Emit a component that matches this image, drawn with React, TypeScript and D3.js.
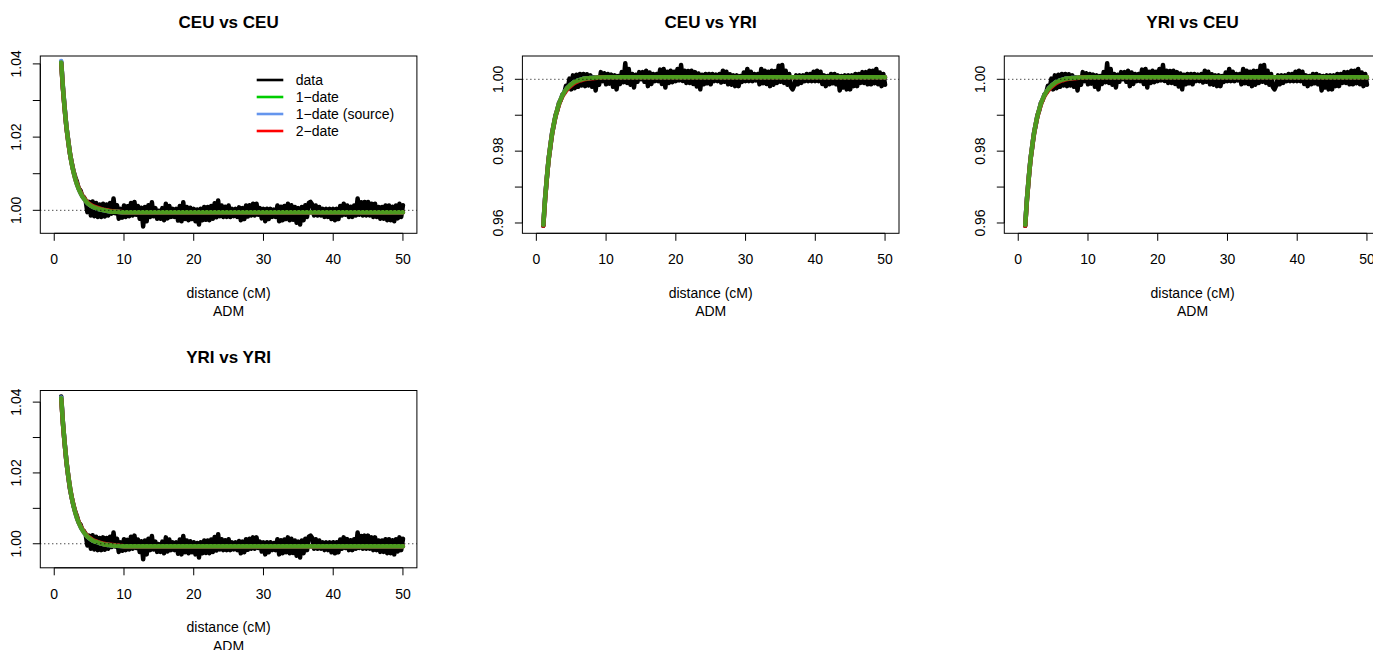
import React from "react";
import * as d3 from "d3";

// ---------- data ----------
const xTicks = [0, 10, 20, 30, 40, 50];
const dataStart = 1;
const dataStep = 0.25;

const ceuCeuData = [
  1.0405, 1.0332, 1.0279, 1.0226,
  1.0192, 1.0155, 1.0131, 1.0108,
  1.0092, 1.0078, 1.0060, 1.0055,
  1.0040, 1.0036, 1.0027, 0.9995,
  1.0023, 0.9986, 1.0024, 0.9984,
  1.0020, 0.9982, 1.0016, 0.9982,
  1.0018, 0.9983, 1.0016, 0.9986,
  1.0020, 0.9991, 1.0032, 0.9992,
  1.0014, 0.9977, 1.0004, 0.9980,
  1.0013, 0.9982, 1.0011, 0.9984,
  1.0020, 0.9986, 1.0023, 0.9988,
  1.0012, 0.9977, 1.0007, 0.9956,
  1.0009, 0.9970, 1.0014, 0.9982,
  1.0022, 0.9984, 1.0006, 0.9977,
  0.9999, 0.9977, 1.0006, 0.9973,
  1.0018, 0.9978, 1.0012, 0.9982,
  1.0004, 0.9982, 1.0004, 0.9972,
  1.0012, 0.9970, 1.0022, 0.9976,
  1.0009, 0.9973, 1.0007, 0.9976,
  1.0004, 0.9970, 1.0002, 0.9961,
  1.0004, 0.9973, 1.0009, 0.9974,
  1.0009, 0.9973, 1.0012, 0.9977,
  1.0019, 0.9981, 1.0027, 0.9984,
  1.0013, 0.9982, 1.0010, 0.9982,
  1.0013, 0.9982, 1.0004, 0.9984,
  1.0004, 0.9982, 1.0008, 0.9973,
  1.0006, 0.9976, 1.0013, 0.9983,
  1.0014, 0.9986, 1.0018, 0.9986,
  1.0018, 0.9988, 1.0006, 0.9978,
  1.0004, 0.9970, 1.0004, 0.9976,
  1.0004, 0.9982, 1.0002, 0.9982,
  1.0013, 0.9970, 1.0010, 0.9973,
  1.0012, 0.9976, 1.0018, 0.9973,
  1.0014, 0.9974, 1.0009, 0.9966,
  1.0006, 0.9961, 1.0009, 0.9973,
  1.0014, 0.9982, 1.0020, 1.0023,
  1.0016, 0.9986, 1.0013, 0.9986,
  1.0009, 0.9986, 1.0004, 0.9982,
  1.0004, 0.9982, 1.0004, 0.9976,
  1.0004, 0.9973, 1.0004, 0.9976,
  1.0012, 0.9986, 1.0018, 0.9988,
  1.0013, 0.9982, 1.0010, 0.9982,
  1.0013, 0.9986, 1.0032, 0.9988,
  1.0022, 0.9986, 1.0023, 0.9986,
  1.0023, 0.9986, 1.0018, 0.9982,
  1.0018, 0.9982, 1.0009, 0.9977,
  1.0009, 0.9977, 1.0013, 0.9973,
  1.0013, 0.9973, 1.0010, 0.9970,
  1.0013, 0.9978, 1.0018, 0.9982,
  1.0014,
];

const ceuYriData = [
  0.9592, 0.9668, 0.9722, 0.9777,
  0.9810, 0.9850, 0.9872, 0.9900,
  0.9913, 0.9935, 0.9942, 0.9958,
  0.9962, 0.9982, 0.9974, 1.0002,
  0.9972, 1.0011, 0.9975, 1.0013,
  0.9979, 1.0015, 0.9983, 1.0015,
  0.9981, 1.0014, 0.9983, 1.0011,
  0.9979, 1.0006, 0.9969, 1.0005,
  0.9985, 1.0020, 0.9995, 1.0017,
  0.9986, 1.0015, 0.9988, 1.0013,
  0.9979, 1.0011, 0.9972, 1.0009,
  0.9987, 1.0020, 0.9992, 1.0045,
  0.9990, 1.0029, 0.9985, 1.0015,
  0.9977, 1.0013, 0.9993, 1.0020,
  1.0000, 1.0020, 0.9993, 1.0024,
  0.9981, 1.0019, 0.9987, 1.0015,
  0.9995, 1.0015, 0.9995, 1.0027,
  0.9987, 1.0029, 0.9977, 1.0021,
  0.9990, 1.0024, 0.9992, 1.0021,
  0.9995, 1.0029, 0.9997, 1.0040,
  0.9995, 1.0024, 0.9990, 1.0023,
  0.9990, 1.0024, 0.9987, 1.0020,
  0.9980, 1.0016, 0.9972, 1.0013,
  0.9986, 1.0015, 0.9989, 1.0015,
  0.9986, 1.0015, 0.9995, 1.0013,
  0.9995, 1.0015, 0.9991, 1.0024,
  0.9993, 1.0021, 0.9986, 1.0014,
  0.9985, 1.0011, 0.9981, 1.0011,
  0.9981, 1.0009, 0.9993, 1.0019,
  0.9995, 1.0029, 0.9995, 1.0021,
  0.9995, 1.0015, 0.9997, 1.0015,
  0.9986, 1.0029, 0.9989, 1.0024,
  0.9987, 1.0021, 0.9981, 1.0024,
  0.9985, 1.0023, 0.9990, 1.0038,
  0.9993, 1.0040, 0.9990, 1.0024,
  0.9985, 1.0015, 0.9979, 0.9972,
  0.9983, 1.0011, 0.9986, 1.0011,
  0.9990, 1.0011, 0.9995, 1.0015,
  0.9995, 1.0015, 0.9995, 1.0021,
  0.9995, 1.0024, 0.9995, 1.0021,
  0.9987, 1.0011, 0.9981, 1.0009,
  0.9986, 1.0015, 0.9989, 1.0015,
  0.9986, 1.0011, 0.9969, 1.0009,
  0.9977, 1.0011, 0.9972, 1.0011,
  0.9972, 1.0011, 0.9981, 1.0015,
  0.9981, 1.0015, 0.9990, 1.0020,
  0.9990, 1.0020, 0.9986, 1.0024,
  0.9986, 1.0024, 0.9989, 1.0029,
  0.9986, 1.0019, 0.9981, 1.0015,
  0.9985,
];

const yriCeuData = ceuYriData;
const yriYriHead = [1.0416, 1.0340, 1.0283, 1.0230];
const yriYriData = [...yriYriHead, ...ceuCeuData.slice(yriYriHead.length)];

const fitDistances = [1, 1.25, 1.5, 1.75, 2, 2.25, 2.5, 2.75, 3, 3.25, 3.5, 3.75, 4, 4.25, 4.5, 4.75, 5, 5.5, 6, 6.5, 7, 7.5, 8, 9, 10, 20, 30, 40, 50];

const ceuCeuOneDate = [1.0404, 1.0334, 1.0276, 1.0228, 1.0189, 1.0156, 1.0128, 1.0106, 1.0087, 1.0071, 1.0059, 1.0048, 1.0039, 1.0032, 1.0026, 1.0020, 1.0016, 1.0010, 1.0006, 1.0003, 1.0001, 0.9999, 0.9997, 0.9996, 0.9995, 0.9995, 0.9995, 0.9995, 0.9995];
const ceuCeuSource = [1.0408, 1.0337, 1.0278, 1.0229, 1.0190, 1.0157, 1.0129, 1.0106, 1.0087, 1.0071, 1.0059, 1.0048, 1.0039, 1.0032, 1.0026, 1.0020, 1.0016, 1.0010, 1.0006, 1.0003, 1.0001, 0.9999, 0.9997, 0.9996, 0.9995, 0.9995, 0.9995, 0.9995, 0.9995];
const ceuCeuTwoDate = [1.0402, 1.0332, 1.0275, 1.0227, 1.0189, 1.0156, 1.0129, 1.0107, 1.0088, 1.0073, 1.0061, 1.0050, 1.0041, 1.0034, 1.0028, 1.0022, 1.0018, 1.0012, 1.0008, 1.0005, 1.0002, 1.0000, 0.9998, 0.9996, 0.9995, 0.9995, 0.9995, 0.9995, 0.9995];

const ceuYriOneDate = [0.9595, 0.9666, 0.9725, 0.9774, 0.9814, 0.9847, 0.9875, 0.9897, 0.9916, 0.9932, 0.9945, 0.9955, 0.9964, 0.9971, 0.9977, 0.9982, 0.9986, 0.9993, 0.9997, 1.0000, 1.0002, 1.0003, 1.0004, 1.0005, 1.0006, 1.0006, 1.0006, 1.0006, 1.0006];
const ceuYriSource = [0.9597, 0.9667, 0.9726, 0.9775, 0.9815, 0.9848, 0.9875, 0.9897, 0.9916, 0.9932, 0.9945, 0.9955, 0.9964, 0.9971, 0.9977, 0.9982, 0.9986, 0.9993, 0.9997, 1.0000, 1.0002, 1.0003, 1.0004, 1.0005, 1.0006, 1.0006, 1.0006, 1.0006, 1.0006];
const ceuYriTwoDate = [0.9592, 0.9664, 0.9724, 0.9773, 0.9813, 0.9846, 0.9874, 0.9896, 0.9914, 0.9930, 0.9943, 0.9953, 0.9961, 0.9968, 0.9974, 0.9979, 0.9983, 0.9990, 0.9995, 0.9998, 1.0001, 1.0002, 1.0003, 1.0005, 1.0006, 1.0006, 1.0006, 1.0006, 1.0006];

const yriYriOneDate = [1.0411, 1.0340, 1.0282, 1.0233, 1.0193, 1.0160, 1.0131, 1.0109, 1.0089, 1.0073, 1.0060, 1.0049, 1.0040, 1.0032, 1.0026, 1.0020, 1.0016, 1.0009, 1.0005, 1.0002, 0.9999, 0.9997, 0.9996, 0.9994, 0.9993, 0.9993, 0.9993, 0.9993, 0.9993];
const yriYriSource = [1.0413, 1.0341, 1.0283, 1.0234, 1.0193, 1.0160, 1.0131, 1.0109, 1.0089, 1.0073, 1.0060, 1.0049, 1.0040, 1.0032, 1.0026, 1.0020, 1.0016, 1.0009, 1.0005, 1.0002, 0.9999, 0.9997, 0.9996, 0.9994, 0.9993, 0.9993, 0.9993, 0.9993, 0.9993];
const yriYriTwoDate = [1.0409, 1.0338, 1.0281, 1.0233, 1.0193, 1.0160, 1.0132, 1.0110, 1.0091, 1.0075, 1.0062, 1.0051, 1.0042, 1.0034, 1.0028, 1.0022, 1.0018, 1.0011, 1.0007, 1.0003, 1.0000, 0.9998, 0.9997, 0.9995, 0.9993, 0.9993, 0.9993, 0.9993, 0.9993];

const legendLabels = ["data", "1\u2212date", "1\u2212date (source)", "2\u2212date"];
const legendColors = ["#000000", "#00CD00", "#6495ED", "#FF0000"];

const xLabel = "distance (cM)";
const subLabel = "ADM";

// ---------- layout ----------
const FONT = "'Liberation Sans', Arial, Helvetica, sans-serif";
const PLOT_W = 376.6;
const PLOT_H = 177.3;
const FIT_GREEN = "#4D9A1F";

type Panel = {
  title: string;
  left: number;
  top: number;
  yDomain: [number, number];
  yTicks: number[];
  yLabels: number[];
  data: number[];
  oneDate: number[];
  source: number[];
  twoDate: number[];
  legend: boolean;
};

const panels: Panel[] = [
  { title: "CEU vs CEU", left: 40.3, top: 56, yDomain: [0.99372, 1.04216], yTicks: [1.0, 1.01, 1.02, 1.03, 1.04], yLabels: [1.0, 1.02, 1.04], data: ceuCeuData, oneDate: ceuCeuOneDate, source: ceuCeuSource, twoDate: ceuCeuTwoDate, legend: true },
  { title: "CEU vs YRI", left: 522.4, top: 56, yDomain: [0.95713, 1.00649], yTicks: [0.96, 0.97, 0.98, 0.99, 1.0], yLabels: [0.96, 0.98, 1.0], data: ceuYriData, oneDate: ceuYriOneDate, source: ceuYriSource, twoDate: ceuYriTwoDate, legend: false },
  { title: "YRI vs CEU", left: 1004.3, top: 56, yDomain: [0.95713, 1.00649], yTicks: [0.96, 0.97, 0.98, 0.99, 1.0], yLabels: [0.96, 0.98, 1.0], data: yriCeuData, oneDate: ceuYriOneDate, source: ceuYriSource, twoDate: ceuYriTwoDate, legend: false },
  { title: "YRI vs YRI", left: 40.3, top: 390.5, yDomain: [0.99321, 1.04328], yTicks: [1.0, 1.01, 1.02, 1.03, 1.04], yLabels: [1.0, 1.02, 1.04], data: yriYriData, oneDate: yriYriOneDate, source: yriYriSource, twoDate: yriYriTwoDate, legend: false },
];

const fmt = d3.format(".2f");

function PanelView({ p }: { p: Panel }) {
  const x = d3.scaleLinear().domain([-2, 52]).range([p.left, p.left + PLOT_W]);
  const y = d3.scaleLinear().domain(p.yDomain).range([p.top + PLOT_H, p.top]);
  const bottom = p.top + PLOT_H;
  const cx = p.left + PLOT_W / 2;

  const dataLine = d3
    .line<number>()
    .x((_, i) => x(dataStart + i * dataStep))
    .y((d) => y(d));
  const fitLine = d3
    .line<number>()
    .x((_, i) => x(fitDistances[i]))
    .y((d) => y(d))
    .curve(d3.curveMonotoneX);

  return (
    <g>
      <text x={cx} y={p.top - 28} textAnchor="middle" fontWeight="bold" fontSize={17} fontFamily={FONT}>
        {p.title}
      </text>
      {/* data & fits */}
      <path d={dataLine(p.data) || ""} fill="none" stroke="#000" strokeWidth={4.5} strokeLinejoin="round" strokeLinecap="round" />
      <path d={fitLine(p.source) || ""} fill="none" stroke="#6495ED" strokeWidth={4.5} strokeLinecap="round" />
      <path d={fitLine(p.twoDate) || ""} fill="none" stroke="#D01010" strokeWidth={4.5} strokeLinecap="round" />
      <path d={fitLine(p.oneDate) || ""} fill="none" stroke={FIT_GREEN} strokeWidth={4.5} strokeLinecap="round" />
      {/* reference line */}
      <line x1={p.left} x2={p.left + PLOT_W} y1={y(1)} y2={y(1)} stroke="#000" strokeWidth={1} strokeDasharray="1,3" />
      {/* box */}
      <rect x={p.left} y={p.top} width={PLOT_W} height={PLOT_H} fill="none" stroke="#000" strokeWidth={1} />
      {/* x axis */}
      {xTicks.map((t) => (
        <g key={"x" + t}>
          <line x1={x(t)} x2={x(t)} y1={bottom} y2={bottom + 7.5} stroke="#000" strokeWidth={1} />
          <text x={x(t)} y={bottom + 30.7} textAnchor="middle" fontSize={14} fontFamily={FONT}>
            {t}
          </text>
        </g>
      ))}
      <line x1={x(xTicks[0])} x2={x(xTicks[xTicks.length - 1])} y1={bottom} y2={bottom} stroke="#000" strokeWidth={1} />
      {/* y axis */}
      {p.yTicks.map((t) => (
        <line key={"y" + t} x1={p.left - 7.5} x2={p.left} y1={y(t)} y2={y(t)} stroke="#000" strokeWidth={1} />
      ))}
      <line x1={p.left} x2={p.left} y1={y(p.yTicks[0])} y2={y(p.yTicks[p.yTicks.length - 1])} stroke="#000" strokeWidth={1} />
      {p.yLabels.map((t) => (
        <text
          key={"yl" + t}
          transform={`translate(${p.left - 19.3},${y(t)}) rotate(-90)`}
          textAnchor="middle"
          fontSize={14}
          fontFamily={FONT}
        >
          {fmt(t)}
        </text>
      ))}
      {/* axis labels */}
      <text x={cx} y={bottom + 64.2} textAnchor="middle" fontSize={14} fontFamily={FONT}>
        {xLabel}
      </text>
      <text x={cx} y={bottom + 82.7} textAnchor="middle" fontSize={14} fontFamily={FONT}>
        {subLabel}
      </text>
      {p.legend &&
        legendLabels.map((lab, i) => {
          const ly = p.top + 24 + i * 17;
          return (
            <g key={lab}>
              <line x1={p.left + 216.4} x2={p.left + 243} y1={ly} y2={ly} stroke={legendColors[i]} strokeWidth={2.6} />
              <text x={p.left + 255.4} y={ly} dy="0.35em" fontSize={14} fontFamily={FONT}>
                {lab}
              </text>
            </g>
          );
        })}
    </g>
  );
}

export default function App() {
  return (
    <svg
      width={1373}
      height={650}
      style={{ position: "absolute", left: 0, top: 0, background: "#fff" }}
    >
      <rect x={0} y={0} width={1373} height={650} fill="#fff" />
      {panels.map((p) => (
        <PanelView key={p.title} p={p} />
      ))}
    </svg>
  );
}
